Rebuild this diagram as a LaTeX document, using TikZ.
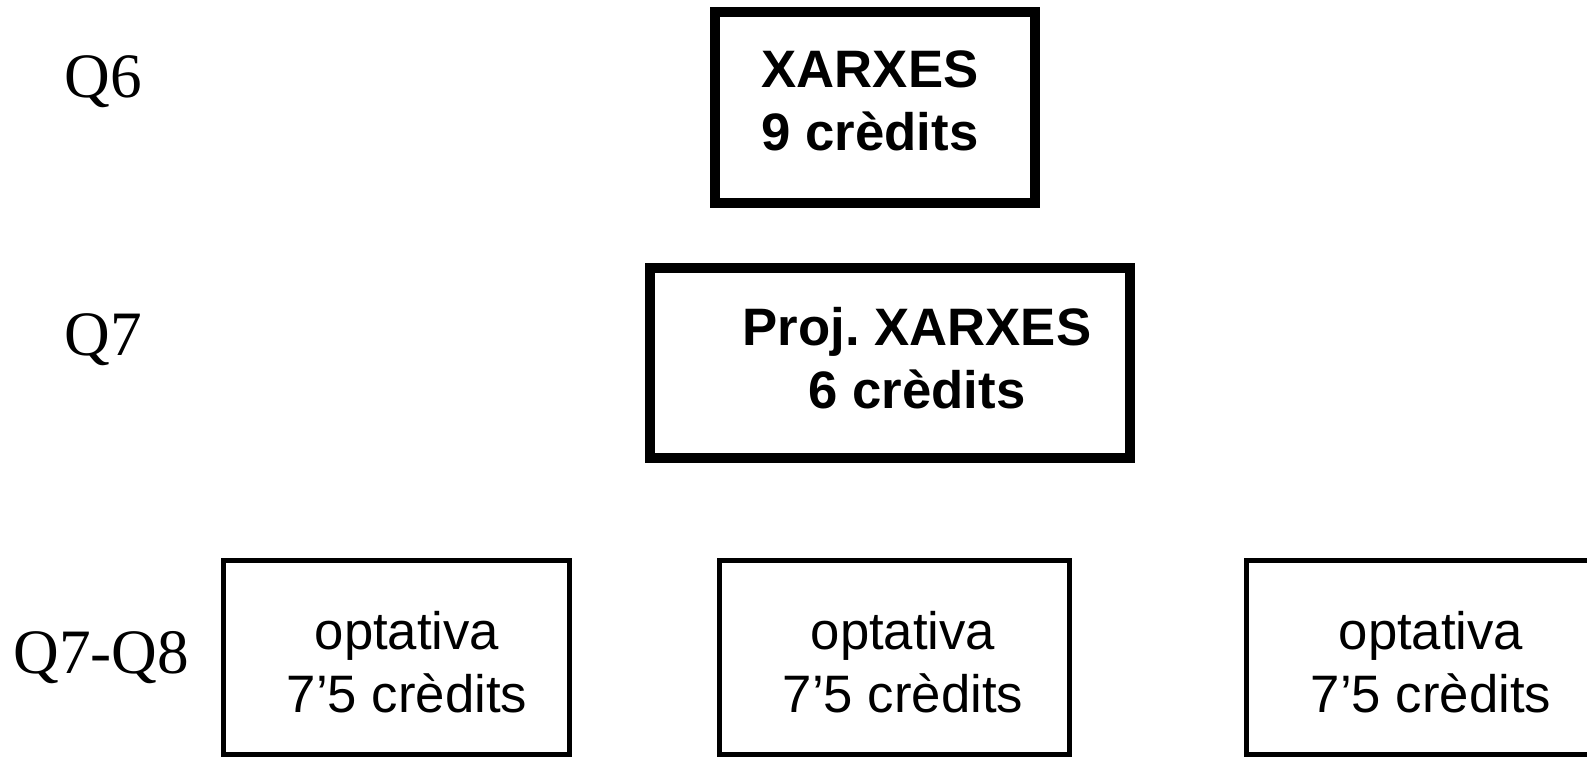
\documentclass[tikz,border=0pt]{standalone}
\usepackage{fontspec}
\setmainfont{Liberation Serif}
\newfontfamily\boxfont{Liberation Sans}
\usetikzlibrary{positioning}

\begin{document}
\begin{tikzpicture}[
    x=0.02cm, y=-0.02cm,
    thickbox/.style={rectangle, draw, line width=5.7pt, minimum height=3.82cm},
    thinbox/.style={rectangle, draw, line width=2.8pt, minimum width=7cm, minimum height=3.89cm},
    quarter/.style={anchor=base west, inner sep=0pt, font=\fontsize{36}{43}\selectfont},
    boxtext/.style={align=center, inner sep=0pt, font=\boxfont\fontsize{30}{36}\selectfont},
    boldtext/.style={align=center, inner sep=0pt, font=\boxfont\bfseries\fontsize{30}{36}\selectfont}
]
    \useasboundingbox (0,0) rectangle (1587,757);

    % Quarter labels
    \node [quarter] (Q6) at (64, 98) {Q6};
    \node [quarter] (Q7) at (64, 355) {Q7};
    \node [quarter] (Q78) at (13, 673) {Q7-Q8};

    % XARXES
    \node [thickbox, minimum width=6.4cm] (xarxes) at (875, 107.5) {};
    \node [boldtext] (xarxes-txt) at (870, 101) {XARXES\\9 crèdits};

    % Proj. XARXES
    \node [thickbox, minimum width=9.6cm, minimum height=3.8cm] (proj) at (890, 363) {};
    \node [boldtext] (proj-txt) at (917, 358) {Proj.\ XARXES\\6 crèdits};

    % Optatives
    \node [thinbox, minimum width=6.92cm] (opt1) at (396.5, 657.5) {};
    \node [boxtext] (opt1-txt) at (407, 662) {optativa\\7’5 crèdits};

    \node [thinbox] (opt2) at (894.5, 657.5) {};
    \node [boxtext] (opt2-txt) at (903, 662) {optativa\\7’5 crèdits};

    \node [thinbox] (opt3) at (1421, 657.5) {};
    \node [boxtext] (opt3-txt) at (1431, 662) {optativa\\7’5 crèdits};

\end{tikzpicture}
\end{document}
